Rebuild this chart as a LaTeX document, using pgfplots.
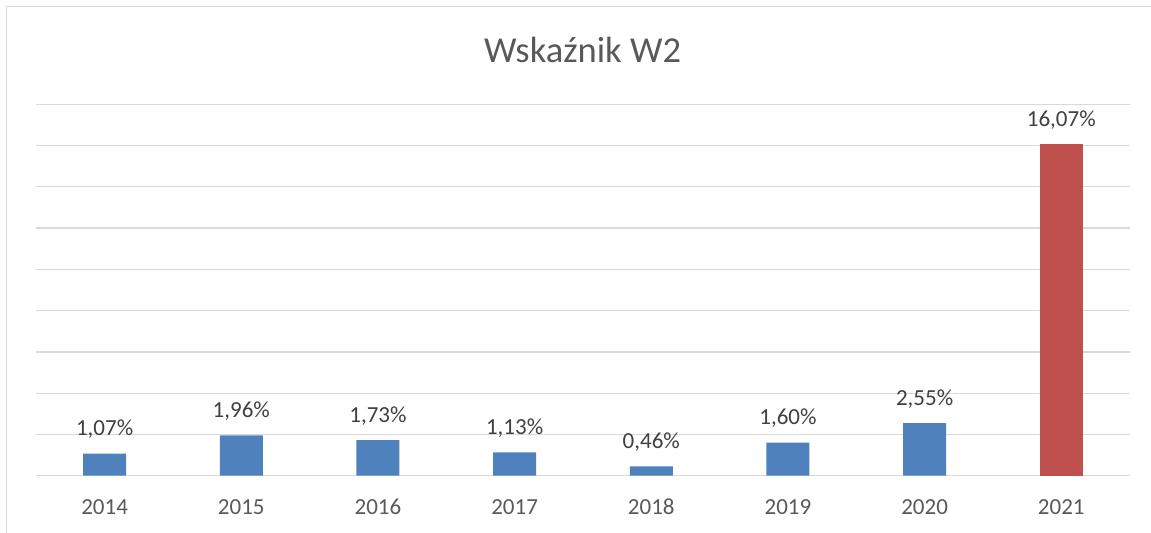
\documentclass[border=0pt]{standalone}
\usepackage{pgfplots}
\pgfplotsset{compat=1.18}
\usepackage{fontspec}
\setmainfont{Carlito}
\definecolor{barblue}{HTML}{4F81BD}
\definecolor{barred}{HTML}{C0504D}
\definecolor{gridgray}{HTML}{D9D9D9}
\definecolor{txtgray}{HTML}{595959}
\definecolor{lblgray}{HTML}{404040}
\begin{document}
\begin{tikzpicture}
\useasboundingbox (0,0) rectangle (863.25pt,-399pt);
\draw[gridgray, line width=1.1pt] (4.9pt,-400pt) -- (4.9pt,-4.9pt) -- (864pt,-4.9pt);
\node[anchor=base, text=txtgray, font=\fontsize{27.4}{32}\selectfont, inner sep=0pt] at (437pt,-47pt) {Wskaźnik W2};
\begin{axis}[
  at={(27.2pt,-356.8pt)}, anchor=south west,
  scale only axis, width=820pt, height=278.6pt,
  xmin=-0.5, xmax=7.5, ymin=0, ymax=18,
  ybar, bar width=32.25pt,
  axis line style={draw=none},
  ymajorgrids, grid style={gridgray, line width=1pt},
  ytick={0,2,...,18}, yticklabels={,,,,,,,,,}, major tick length=0pt,
  xtick={0,1,2,3,4,5,6,7},
  xticklabels={2014,2015,2016,2017,2018,2019,2020,2021},
  xticklabel style={anchor=base, yshift=-29pt, text=txtgray, font=\fontsize{17.25}{20}\selectfont},
  /pgf/number format/assume math mode=true,
  nodes near coords={\pgfmathprintnumber[fixed, fixed zerofill, precision=2, use comma]{\pgfplotspointmeta}\%},
  every node near coord/.append style={anchor=base, yshift=13.5pt, text=lblgray, font=\fontsize{17.25}{20}\selectfont, inner sep=0pt},
  clip=false,
]
\addplot[fill=barblue, draw=none, bar shift=0pt] coordinates {(0,1.07) (1,1.96) (2,1.73) (3,1.13) (4,0.46) (5,1.60) (6,2.55)};
\addplot[fill=barred, draw=none, bar shift=0pt] coordinates {(7,16.07)};
\end{axis}
\end{tikzpicture}
\end{document}
